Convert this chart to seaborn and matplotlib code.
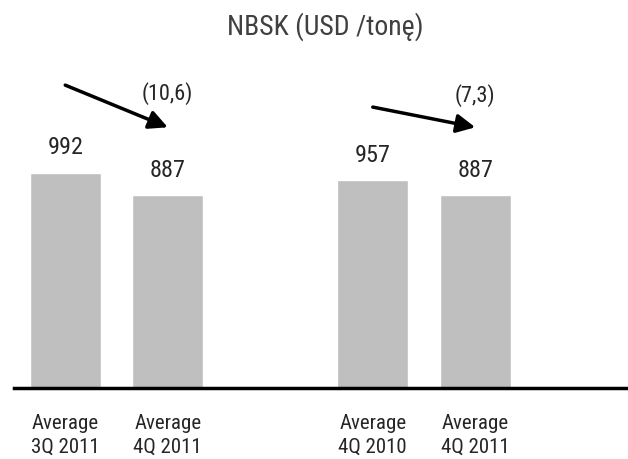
import pandas as pd
import seaborn as sns
import matplotlib.pyplot as plt
from matplotlib import font_manager

# data
labels = ["Average\n3Q 2011", "Average\n4Q 2011", "Average\n4Q 2010", "Average\n4Q 2011"]
values = [992, 887, 957, 887]
changes = ["(10,6)", "(7,3)"]
title = "NBSK (USD /tonę)"

sns.set_style("white")

# the reference uses a narrow sans; pick one if the machine has it
names = {f.name for f in font_manager.fontManager.ttflist}
wanted = ['Liberation Sans Narrow', 'Arial Narrow', 'Roboto Condensed',
          'Open Sans Condensed', 'Noto Sans Condensed']
narrow = [n for n in wanted if n in names]
if not narrow:
    narrow = sorted(n for n in names if 'Narrow' in n or 'Condensed' in n)
plt.rcParams['font.family'] = narrow[:1] + ['Liberation Sans', 'DejaVu Sans']
FS = 16 if narrow else 14

# two groups of two bars with a gap between them
pos = [0, 1, 3, 4]
df = pd.DataFrame({'pos': pos, 'value': values})

fig = plt.figure(figsize=(6.28, 4.60), dpi=100)
ax = fig.add_axes([14 / 628, 0.154, 1 - 14 / 628, 0.715])

sns.barplot(data=df, x='pos', y='value', native_scale=True, width=0.69,
            color='#BFBFBF', saturation=1, ax=ax)

ax.set_xlim(-0.5, 5.49)
ax.set_ylim(0, 1513)

# value labels above bars
for p, v in zip(pos, values):
    ax.annotate(str(v), (p, v), xytext=(0, 18.5), textcoords='offset points',
                ha='center', va='center', fontsize=FS + 1.5)

# arrows showing the change between pairs
arrows = [((0, 1394), (1, 1200), 1362), ((3, 1293), (4, 1200), 1352)]
for (start, end, ty), txt in zip(arrows, changes):
    ax.annotate('', xy=end, xytext=start,
                arrowprops=dict(arrowstyle='-|>', lw=2.5, color='black',
                                mutation_scale=28, shrinkA=0, shrinkB=0))
    ax.text(end[0], ty, txt, ha='center', va='center', fontsize=FS)

ax.set_xticks(pos)
ax.set_xticklabels(labels, fontsize=FS - 1, linespacing=1.33)
ax.tick_params(axis='x', length=0, pad=18)
ax.set_yticks([])
ax.set_xlabel('')
ax.set_ylabel('')
for s in ['top', 'right', 'left']:
    ax.spines[s].set_visible(False)
ax.spines['bottom'].set_linewidth(2.5)
ax.spines['bottom'].set_color('black')

fig.text(325 / 628, 1 - 27 / 460, title, ha='center', va='center',
         fontsize=FS + 4, color='#404040')

fig.savefig('out.png', dpi=100)
